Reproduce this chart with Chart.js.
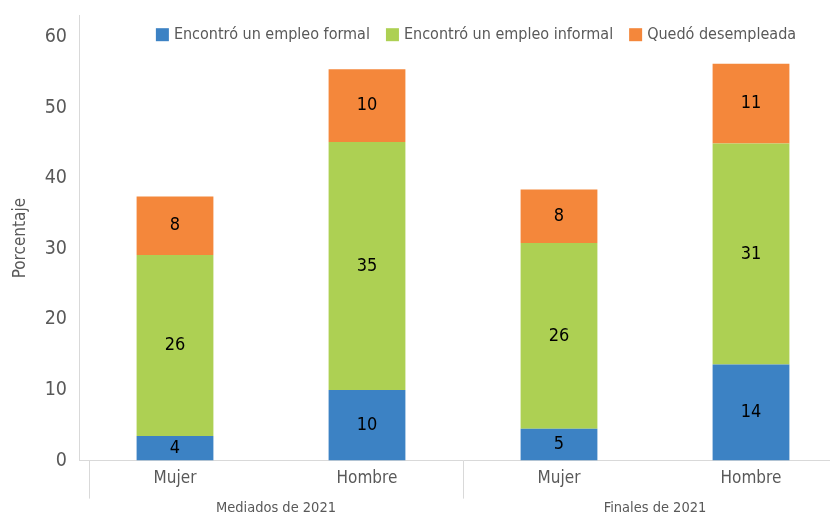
<!DOCTYPE html>
<html>
<head>
<meta charset="utf-8">
<script src="https://cdn.jsdelivr.net/npm/chart.js@4"></script>
<style>
  html, body { margin: 0; padding: 0; background: #fff; overflow: hidden; }
  #wrap { width: 847px; height: 516px; }
</style>
</head>
<body>
<div id="wrap"><canvas id="grafica"></canvas></div>
<script>
// Datos (porcentajes)
const categorias = ['Mujer', 'Hombre', 'Mujer', 'Hombre'];
const grupos = ['Mediados de 2021', 'Finales de 2021'];
const empleoFormal = [3.5, 10.0, 4.5, 13.6];
const empleoInformal = [25.6, 35.1, 26.3, 31.3];
const desempleada = [8.3, 10.3, 7.6, 11.3];
const ticksY = [0, 10, 20, 30, 40, 50, 60];

const fuente = "'Liberation Sans Narrow', 'DejaVu Sans Condensed', sans-serif";
const gris = '#595959';

// Etiquetas dentro de cada segmento
const etiquetasBarras = {
    id: 'etiquetasBarras',
    afterDatasetsDraw(chart) {
        const ctx = chart.ctx;
        ctx.save();
        ctx.font = '18px ' + fuente;
        ctx.fillStyle = '#000';
        ctx.textAlign = 'center';
        ctx.textBaseline = 'middle';
        chart.data.datasets.forEach((ds, i) => {
            chart.getDatasetMeta(i).data.forEach((bar, j) => {
                const p = bar.getProps(['x', 'y', 'base'], true);
                ctx.fillText(Math.round(ds.data[j]), p.x, (p.y + p.base) / 2);
            });
        });
        ctx.restore();
    }
};

// Leyenda horizontal dentro del área del gráfico
const leyendaArriba = {
    id: 'leyendaArriba',
    afterDraw(chart) {
        const ctx = chart.ctx;
        const area = chart.chartArea;
        const caja = 13, hueco = 5, separacion = 16;
        ctx.save();
        ctx.font = '16px ' + fuente;
        const items = chart.data.datasets.map(ds => ({
            texto: ds.label, color: ds.backgroundColor, ancho: ctx.measureText(ds.label).width
        }));
        const total = items.reduce((s, it) => s + caja + hueco + it.ancho, 0) + separacion * (items.length - 1);
        let x = (area.left + area.right) / 2 + 13 - total / 2;
        const y = area.top + 19;
        ctx.textBaseline = 'middle';
        ctx.textAlign = 'left';
        items.forEach(it => {
            ctx.fillStyle = it.color;
            ctx.fillRect(x, y - caja / 2, caja, caja);
            ctx.fillStyle = gris;
            ctx.fillText(it.texto, x + caja + hueco, y);
            x += caja + hueco + it.ancho + separacion;
        });
        ctx.restore();
    }
};

// Segundo nivel del eje X: grupos y separadores
const ejeGrupos = {
    id: 'ejeGrupos',
    afterDraw(chart) {
        const x = chart.scales.x;
        const ctx = chart.ctx;
        const base = chart.chartArea.bottom;
        const bordes = [x.left + 10, (x.getPixelForValue(1) + x.getPixelForValue(2)) / 2, x.right];
        ctx.save();
        ctx.strokeStyle = '#d9d9d9';
        ctx.lineWidth = 1;
        bordes.forEach(b => {
            ctx.beginPath();
            ctx.moveTo(Math.round(b) + 0.5, base);
            ctx.lineTo(Math.round(b) + 0.5, base + 38);
            ctx.stroke();
        });
        ctx.font = '14.5px ' + fuente;
        ctx.fillStyle = gris;
        ctx.textAlign = 'center';
        ctx.textBaseline = 'middle';
        grupos.forEach((g, i) => {
            ctx.fillText(g, (bordes[i] + bordes[i + 1]) / 2, base + 48);
        });
        ctx.restore();
    }
};

var canvas = document.getElementById('grafica');
if (canvas) {
    var ctx = canvas.getContext('2d');
    new Chart(ctx, {
        type: 'bar',
        data: {
            labels: categorias,
            datasets: [
                { label: 'Encontró un empleo formal', data: empleoFormal, backgroundColor: '#3C82C4' },
                { label: 'Encontró un empleo informal', data: empleoInformal, backgroundColor: '#ADD053' },
                { label: 'Quedó desempleada', data: desempleada, backgroundColor: '#F4873B' }
            ]
        },
        options: {
            responsive: true,
            maintainAspectRatio: false,
            animation: false,
            layout: { padding: { top: 3, right: 0, bottom: 27, left: 0 } },
            datasets: { bar: { categoryPercentage: 0.8, barPercentage: 0.5 } },
            plugins: {
                legend: { display: false },
                tooltip: { enabled: false }
            },
            scales: {
                x: {
                    stacked: true,
                    grid: { display: false },
                    border: { color: '#d9d9d9' },
                    ticks: { color: gris, font: { family: fuente, size: 17 }, padding: 0 }
                },
                y: {
                    stacked: true,
                    min: 0,
                    max: 63,
                    afterBuildTicks: axis => { axis.ticks = ticksY.map(v => ({ value: v })); },
                    afterFit: scale => { scale.width = 79; },
                    grid: { display: false },
                    border: { color: '#d9d9d9' },
                    ticks: { color: gris, font: { family: fuente, size: 19.5 }, padding: 4 },
                    title: {
                        display: true,
                        text: 'Porcentaje',
                        color: gris,
                        font: { family: fuente, size: 17 },
                        padding: { top: 10, bottom: 0 }
                    }
                }
            }
        },
        plugins: [etiquetasBarras, leyendaArriba, ejeGrupos]
    });
}
</script>
</body>
</html>
